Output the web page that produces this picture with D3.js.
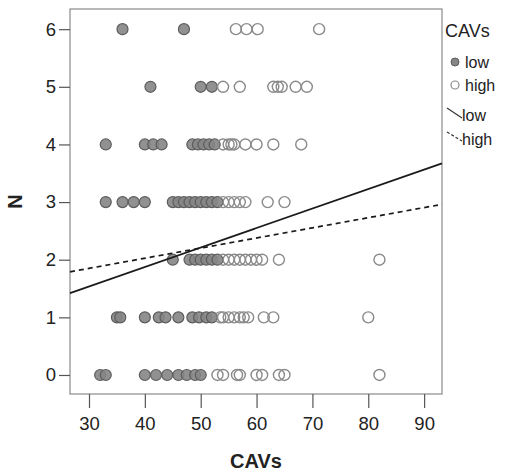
<!DOCTYPE html>
<html>
<head>
<meta charset="utf-8">
<script src="https://cdn.jsdelivr.net/npm/d3@7"></script>
<style>
  html, body { margin: 0; padding: 0; background: #fff; }
  svg { display: block; font-family: "Liberation Sans", Arial, sans-serif; }
</style>
</head>
<body>
<svg id="chart" width="523" height="471"></svg>
<script>
// ---- data ----
const nLevels = [0, 1, 2, 3, 4, 5, 6];
// CAVs values of "low" group points, indexed by N
const lowCAVs = [
  [32, 33, 40, 42, 44, 46, 47.5, 49, 50],
  [35, 35.6, 40, 42.5, 43.7, 46, 48.5, 49.7, 51, 52],
  [45, 48, 49, 50, 51, 52, 53],
  [33, 36, 38, 40, 45, 46, 47, 48, 49, 50, 51, 52, 53],
  [33, 40, 41.5, 43, 48.5, 49.5, 50.5, 51.5, 52.5],
  [41, 50, 52],
  [36, 47]
];
// CAVs values of "high" group points, indexed by N
const highCAVs = [
  [53, 54, 56.5, 57, 60, 61, 64, 65, 82],
  [53.5, 54, 55, 56, 57, 57.7, 58.5, 61.3, 63, 80],
  [54, 55, 56, 57, 58, 59, 60, 61, 64, 82],
  [54, 55, 56, 57, 58, 62, 65],
  [54, 55, 55.5, 56, 58, 60, 63, 68],
  [54, 57, 63, 63.8, 64.5, 67, 69],
  [56.3, 58.2, 60.2, 71.2]
];
const xTicks = [30, 40, 50, 60, 70, 80, 90];
const yTicks = [0, 1, 2, 3, 4, 5, 6];
const fitGroups = ["low", "high"];
const fitIntercept = [0.521, 1.323];
const fitSlope = [0.0338, 0.01757];
const legendTitle = "CAVs";
const xTitle = "CAVs";
const yTitle = "N";

// ---- layout ----
const frame = { left: 70, right: 442, top: 9, bottom: 394 };
const xDomain = [26.6, 93.2];
const x = d3.scaleLinear().domain(xDomain).range([frame.left, frame.right]);
const y = d3.scaleLinear().domain([-0.33, 6.35]).range([frame.bottom, frame.top]);

const svg = d3.select("#chart");

// frame
svg.append("rect")
  .attr("x", frame.left).attr("y", frame.top)
  .attr("width", frame.right - frame.left).attr("height", frame.bottom - frame.top)
  .attr("fill", "none").attr("stroke", "#8a8a8a").attr("stroke-width", 1.2);

// axes
const xAxis = svg.append("g")
  .attr("transform", `translate(0,${frame.bottom})`)
  .call(d3.axisBottom(x).tickValues(xTicks).tickFormat(d3.format("d"))
    .tickSize(14).tickSizeOuter(0).tickPadding(9));
const yAxis = svg.append("g")
  .attr("transform", `translate(${frame.left},0)`)
  .call(d3.axisLeft(y).tickValues(yTicks).tickFormat(d3.format("d"))
    .tickSize(11).tickSizeOuter(0).tickPadding(3));
[xAxis, yAxis].forEach(g => {
  g.select(".domain").remove();
  g.selectAll(".tick line").attr("stroke", "#555").attr("stroke-width", 1.2);
  g.selectAll(".tick text").attr("fill", "#222").attr("font-size", 18.5)
    .attr("font-family", "Liberation Sans, Arial, sans-serif");
});

// axis titles
svg.append("text").attr("x", (frame.left + frame.right) / 2).attr("y", 468)
  .attr("text-anchor", "middle").attr("font-weight", "bold").attr("font-size", 20)
  .attr("fill", "#222").text(xTitle);
svg.append("text")
  .attr("transform", `translate(22,${(frame.top + frame.bottom) / 2}) rotate(-90)`)
  .attr("text-anchor", "middle").attr("font-weight", "bold").attr("font-size", 20)
  .attr("fill", "#222").text(yTitle);

// points
const plot = svg.append("g");
const lowPts = [], highPts = [];
nLevels.forEach((n, i) => {
  lowCAVs[i].forEach(v => lowPts.push({ v, n }));
  highCAVs[i].forEach(v => highPts.push({ v, n }));
});
plot.selectAll("circle.low").data(lowPts).join("circle")
  .attr("class", "low")
  .attr("cx", d => x(d.v)).attr("cy", d => y(d.n)).attr("r", 5.5)
  .attr("fill", "#858585").attr("fill-opacity", 0.9)
  .attr("stroke", "#5c5c5c").attr("stroke-width", 1.2);
plot.selectAll("circle.high").data(highPts).join("circle")
  .attr("class", "high")
  .attr("cx", d => x(d.v)).attr("cy", d => y(d.n)).attr("r", 5.5)
  .attr("fill", "none")
  .attr("stroke", "#8a8a8a").attr("stroke-width", 1.4);

// fit lines
const line = d3.line().x(d => x(d[0])).y(d => y(d[1]));
fitGroups.forEach((g, i) => {
  const pts = xDomain.map(v => [v, fitIntercept[i] + fitSlope[i] * v]);
  svg.append("path").attr("d", line(pts))
    .attr("fill", "none").attr("stroke", "#1a1a1a").attr("stroke-width", 1.7)
    .attr("stroke-dasharray", i === 0 ? null : "5,4");
});

// legend
const lg = svg.append("g").attr("font-size", 16).attr("fill", "#222");
lg.append("text").attr("x", 445).attr("y", 37).attr("font-size", 18).text(legendTitle);
lg.append("circle").attr("cx", 455).attr("cy", 62).attr("r", 4)
  .attr("fill", "#858585").attr("stroke", "#5c5c5c");
lg.append("text").attr("x", 465).attr("y", 68).text(fitGroups[0]);
lg.append("circle").attr("cx", 455).attr("cy", 85).attr("r", 4)
  .attr("fill", "none").attr("stroke", "#8a8a8a").attr("stroke-width", 1.2);
lg.append("text").attr("x", 465).attr("y", 91).text(fitGroups[1]);
lg.append("line").attr("x1", 447).attr("y1", 108).attr("x2", 462).attr("y2", 118)
  .attr("stroke", "#333").attr("stroke-width", 1.2);
lg.append("text").attr("x", 462).attr("y", 121).text(fitGroups[0]);
lg.append("line").attr("x1", 447).attr("y1", 132).attr("x2", 462).attr("y2", 141)
  .attr("stroke", "#333").attr("stroke-width", 1.2).attr("stroke-dasharray", "3,2");
lg.append("text").attr("x", 462).attr("y", 145).text(fitGroups[1]);
</script>
</body>
</html>
